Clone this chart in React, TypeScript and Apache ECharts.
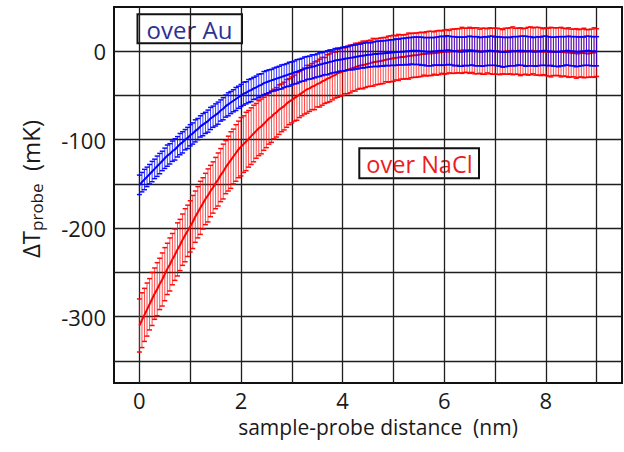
import React, { useEffect, useRef } from 'react';
import * as echarts from 'echarts';

const STEP = 0.05; // nm between measurement points

const auMean = [
  -151, -148, -145, -142, -139,
  -136, -133, -130, -127, -124,
  -121, -118, -116, -113, -111,
  -108, -105, -103, -100, -98,
  -95, -93, -90, -88, -85,
  -83, -81, -79, -76, -74,
  -72, -70, -67, -65, -62,
  -60, -58, -56, -54, -52,
  -50, -48, -47, -45, -44,
  -42, -41, -39, -38, -36,
  -35, -34, -33, -32, -31,
  -30, -29, -28, -27, -26,
  -25, -24, -23, -22, -21,
  -20, -19, -18.5, -17.5, -17,
  -16, -15, -14.5, -13.5, -13,
  -12, -11.5, -10.5, -10, -9.5,
  -9, -8.5, -8, -7.5, -7,
  -6.5, -6, -5.5, -5, -4.5,
  -4, -4, -3.5, -3, -3,
  -2.5, -2.5, -2, -2, -1.5,
  -1.5, -1, -1, -0.5, -0.5,
  0, 0, 0.5, 0.5, 0.5,
  0.5, 0, 0, -0.5, -0.5,
  -0.5, 0, 0, 0.5, 0.5,
  0.5, 1, 1, 0.5, 0,
  0, -0.5, -0.5, 0, 0,
  0.5, 0.5, 0, 0, -0.5,
  -0.5, 0, 0, 0.5, 0.5,
  0, 0, -0.5, -1, -1,
  -0.5, -0.5, 0, 0, 0.5,
  0.5, 0.5, 0, 0, 0,
  -0.5, -0.5, 0, 0, 0.5,
  0.5, 0, 0, -0.5, -0.5,
  -0.5, 0, 0, 0.5, 0.5,
  0, 0, -0.5, -0.5, 0,
  0, 0.5, 0.5, 0, 0,
  0,
];

const auErr = [
  11, 11, 11.5, 11, 11,
  11.5, 11, 11.5, 11.5, 11,
  11.5, 12, 11.5, 11.5, 12,
  11.5, 12, 12, 11.5, 12,
  12, 12, 12.5, 12, 12,
  12.5, 12, 12.5, 12.5, 12,
  12.5, 12.5, 12, 12.5, 12.5,
  13, 12.5, 12.5, 13, 12.5,
  12.5, 13, 12.5, 13, 13,
  12.5, 13, 13, 12.5, 13,
  13, 13, 12.5, 13, 13,
  13, 13.5, 13, 13, 13.5,
  13, 13, 13.5, 13, 13,
  13.5, 13, 13, 13.5, 13,
  13, 13.5, 13, 13, 13.5,
  13.5, 13, 13.5, 13.5, 13,
  13.5, 13.5, 13, 13.5, 14,
  13.5, 14, 13.5, 14, 14,
  14, 13.5, 14, 14, 14.5,
  14, 14.5, 14, 14.5, 14.5,
  14.5, 15, 14.5, 15, 15,
  15, 15.5, 15, 15.5, 15.5,
  15.5, 16, 15.5, 16, 16,
  16, 15.5, 16, 16, 16.5,
  16, 16.5, 16, 16, 16.5,
  16, 16.5, 16.5, 16, 16.5,
  16.5, 16, 16.5, 16.5, 16,
  16.5, 16.5, 16, 16.5, 16.5,
  16, 16.5, 16.5, 17, 16.5,
  16.5, 16, 16.5, 16.5, 16,
  16.5, 16.5, 17, 16.5, 16.5,
  16, 16.5, 16.5, 16, 16.5,
  16.5, 16.5, 16, 16.5, 16.5,
  17, 16.5, 16.5, 16, 16.5,
  16.5, 16.5, 17, 16.5, 16.5,
  16, 16.5, 16.5, 16.5, 16.5,
  16.5,
];

const naclMean = [
  -310, -304, -298, -292, -286,
  -280, -274, -269, -263, -258,
  -252, -246, -241, -235, -230,
  -224, -219, -213, -208, -203,
  -198, -193, -187, -182, -177,
  -172, -167, -163, -158, -154,
  -149, -145, -140, -136, -131,
  -127, -123, -119, -115, -111,
  -108, -105, -102, -99, -96,
  -93, -90, -87, -85, -82,
  -79, -76, -74, -71, -69,
  -66, -64, -62, -59, -57,
  -55, -53, -51, -49, -47,
  -45, -43, -42, -40, -39,
  -37, -36, -34, -33, -31,
  -30, -28, -27, -25, -24,
  -23, -22, -21, -20, -19,
  -18, -17, -16, -15.5, -15,
  -14, -13.5, -12.5, -12, -11.5,
  -11, -10.5, -9.5, -9, -8.5,
  -8, -7.5, -7, -6.5, -6.5,
  -6, -5.5, -5, -4.5, -4.5,
  -4, -3.5, -3, -3, -2.5,
  -2.5, -2, -2, -1.5, -1,
  -1, -0.5, -0.5, 0, 0,
  0.5, 0.5, 1, 1, 1,
  1, 1, 0.5, 0.5, 0,
  0, 0, 0.5, 0.5, 0,
  0, 0, -0.5, -0.5, 0,
  0, 0.5, 0.5, 0, 0,
  -0.5, -0.5, 0, 0, 0.5,
  0.5, 0, 0, -0.5, -0.5,
  -0.5, -1, -1, -0.5, -0.5,
  -0.5, -1, -1, -1.5, -1.5,
  -2, -2, -2.5, -2.5, -2,
  -2, -2.5, -2.5, -2, -1.5,
  -1.5,
];

const naclErr = [
  30, 31, 30, 30, 29,
  30, 29, 30, 29, 30,
  30, 29, 30, 29, 29,
  30, 29, 29, 30, 29,
  29, 30, 29, 29, 30,
  29, 29, 30, 29, 29,
  29, 30, 30, 31, 30,
  31, 32, 31, 32, 32,
  33, 32, 33, 32, 32,
  32, 31, 31, 31, 30,
  30, 29, 29, 28, 28,
  28, 27, 27, 27, 26,
  26, 26, 27, 26, 26,
  26, 27, 26, 26, 27,
  26, 27, 27, 26, 27,
  27, 27, 26, 27, 27,
  27, 26, 27, 27, 26,
  27, 26, 26, 27, 26,
  26, 26, 27, 26, 26,
  26, 26, 25, 26, 26,
  26, 25, 26, 25, 25,
  25, 26, 25, 25, 25,
  25, 25, 24, 25, 25,
  25, 24, 25, 25, 24,
  25, 25, 24, 25, 25,
  25, 25, 26, 25, 25,
  26, 25, 26, 26, 25,
  26, 26, 25, 26, 26,
  26, 26, 26, 25, 26,
  26, 26, 27, 26, 26,
  27, 26, 26, 27, 27,
  26, 27, 27, 27, 26,
  27, 27, 28, 27, 27,
  27, 28, 27, 27, 28,
  27, 27, 28, 27, 27,
  28, 27, 27, 27, 28,
  27,
];

const xGridValues = [0, 1, 2, 3, 4, 5, 6, 7, 8, 9];
const xTickLabels = [0, 2, 4, 6, 8];
const yGridValues = [-350, -300, -250, -200, -150, -100, -50, 0];
const yTickLabels = [-300, -200, -100, 0];

const dist = auMean.map((_, i) => Math.round(i * STEP * 100) / 100);

const FONT = '"Open Sans", "DejaVu Sans", sans-serif';
const TEXT = '#1a1a1a';

function errData(mean: number[], err: number[]) {
  return mean.map((m, i) => [dist[i], m - err[i], m + err[i]]);
}
function lineData(mean: number[]) {
  return mean.map((m, i) => [dist[i], m]);
}

function errorBars(barColor: string, capColor: string) {
  return (_params: any, api: any) => {
    const x = api.value(0);
    const lo = api.coord([x, api.value(1)]);
    const hi = api.coord([x, api.value(2)]);
    const hw = 2.5;
    return {
      type: 'group',
      children: [
        { type: 'line', shape: { x1: hi[0], y1: hi[1], x2: lo[0], y2: lo[1] }, style: { stroke: barColor, lineWidth: 1 } },
        { type: 'line', shape: { x1: hi[0] - hw, y1: hi[1], x2: hi[0] + hw, y2: hi[1] }, style: { stroke: capColor, lineWidth: 1.5 } },
        { type: 'line', shape: { x1: lo[0] - hw, y1: lo[1], x2: lo[0] + hw, y2: lo[1] }, style: { stroke: capColor, lineWidth: 1.5 } },
      ],
    };
  };
}

export default function App() {
  const ref = useRef<HTMLDivElement>(null);
  useEffect(() => {
    if (!ref.current) return;
    const chart = echarts.init(ref.current, undefined, { renderer: 'svg' });
    const option: any = {
      animation: false,
      backgroundColor: '#ffffff',
      grid: {
        left: 114,
        right: 2,
        top: 7,
        bottom: 69,
        show: true,
        borderColor: '#111',
        borderWidth: 2,
        backgroundColor: 'transparent',
      },
      xAxis: {
        type: 'value',
        min: -0.5,
        max: 9.5,
        axisLine: { show: false },
        axisTick: { show: false, customValues: xGridValues },
        splitLine: { show: true, lineStyle: { color: '#1e1e1e', width: 1.3 } },
        axisLabel: {
          customValues: xTickLabels,
          fontFamily: FONT,
          fontSize: 22,
          color: TEXT,
          margin: 6,
        },
      },
      yAxis: {
        type: 'value',
        min: -375,
        max: 50,
        axisLine: { show: false },
        axisTick: { show: false, customValues: yGridValues },
        splitLine: { show: true, lineStyle: { color: '#1e1e1e', width: 1.3 } },
        axisLabel: {
          customValues: yTickLabels,
          fontFamily: FONT,
          fontSize: 22,
          color: TEXT,
          margin: 8,
        },
      },
      series: [
        {
          type: 'custom',
          name: 'over NaCl err',
          data: errData(naclMean, naclErr),
          encode: { x: 0, y: [1, 2] },
          renderItem: errorBars('rgba(255,0,0,0.7)', 'rgba(255,0,0,0.95)'),
          z: 2,
          silent: true,
        },
        {
          type: 'line',
          name: 'over NaCl',
          data: lineData(naclMean),
          showSymbol: false,
          lineStyle: { color: '#ff0000', width: 2 },
          z: 3,
          silent: true,
        },
        {
          type: 'custom',
          name: 'over Au err',
          data: errData(auMean, auErr),
          encode: { x: 0, y: [1, 2] },
          renderItem: errorBars('rgba(0,0,255,0.75)', 'rgba(0,0,255,0.95)'),
          z: 4,
          silent: true,
        },
        {
          type: 'line',
          name: 'over Au',
          data: lineData(auMean),
          showSymbol: false,
          lineStyle: { color: '#0000ff', width: 2 },
          z: 5,
          silent: true,
        },
      ],
      graphic: [
        {
          type: 'group',
          z: 100,
          children: [
            {
              type: 'rect',
              shape: { x: 137.5, y: 14.3, width: 104.5, height: 29 },
              style: { fill: '#ffffff', stroke: '#111', lineWidth: 2 },
            },
            {
              type: 'text',
              x: 189.5,
              y: 29,
              style: {
                text: 'over Au',
                fill: '#2e3192',
                fontFamily: FONT,
                fontSize: 24,
                align: 'center',
                verticalAlign: 'middle',
                textAlign: 'center',
                textVerticalAlign: 'middle',
              },
            },
            {
              type: 'rect',
              shape: { x: 359.3, y: 148.3, width: 119.7, height: 30 },
              style: { fill: '#ffffff', stroke: '#111', lineWidth: 2 },
            },
            {
              type: 'text',
              x: 419.5,
              y: 163.5,
              style: {
                text: 'over NaCl',
                fill: '#ed1c24',
                fontFamily: FONT,
                fontSize: 23.5,
                align: 'center',
                verticalAlign: 'middle',
                textAlign: 'center',
                textVerticalAlign: 'middle',
              },
            },
            {
              type: 'text',
              x: 378,
              y: 427,
              style: {
                text: 'sample-probe distance  (nm)',
                fill: TEXT,
                fontFamily: FONT,
                fontSize: 21,
                align: 'center',
                verticalAlign: 'middle',
                textAlign: 'center',
                textVerticalAlign: 'middle',
              },
            },
            {
              type: 'text',
              x: 30,
              y: 189,
              rotation: Math.PI / 2,
              style: {
                text: '{a|ΔT}{b|probe}{a|  (mK)}',
                fill: TEXT,
                fontFamily: FONT,
                fontSize: 24,
                align: 'center',
                verticalAlign: 'middle',
                textAlign: 'center',
                textVerticalAlign: 'middle',
                rich: {
                  a: { fontFamily: FONT, fontSize: 24, fill: TEXT, lineHeight: 30, verticalAlign: 'middle' },
                  b: { fontFamily: FONT, fontSize: 17, fill: TEXT, lineHeight: 14, verticalAlign: 'bottom' },
                },
              },
            },
          ],
        },
      ],
    };
    chart.setOption(option);
    return () => chart.dispose();
  }, []);
  return (
    <div
      ref={ref}
      style={{ position: 'absolute', left: 0, top: 0, width: 624, height: 452 }}
    />
  );
}
